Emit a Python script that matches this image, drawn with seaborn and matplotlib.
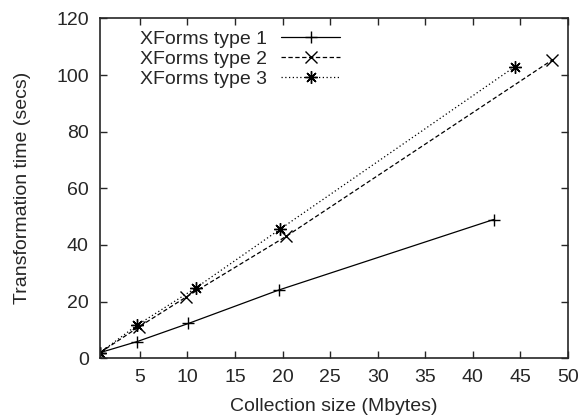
import pandas as pd
import seaborn as sns
import matplotlib.pyplot as plt

# values
size_type1 = [0.8, 4.7, 10.1, 19.6, 42.2]
time_type1 = [2.0, 5.9, 12.3, 24.1, 49.0]
size_type2 = [0.8, 4.9, 9.8, 20.4, 48.3]
time_type2 = [2.0, 11.1, 21.5, 43.1, 105.2]
size_type3 = [0.8, 4.7, 10.9, 19.7, 44.4]
time_type3 = [2.0, 11.7, 24.9, 45.5, 102.9]
series_names = ["XForms type 1", "XForms type 2", "XForms type 3"]

frames = []
for name, xs, ys in zip(series_names,
                        [size_type1, size_type2, size_type3],
                        [time_type1, time_type2, time_type3]):
    frames.append(pd.DataFrame({"size": xs, "time": ys, "type": name}))
df = pd.concat(frames, ignore_index=True)

sns.set_style("ticks")
plt.rcParams["font.family"] = ["Liberation Sans", "DejaVu Sans"]
plt.rcParams["font.size"] = 14

fig = plt.figure(figsize=(5.83, 4.16), dpi=100)
ax = fig.add_axes([0.1715, 0.1387, 0.8025, 0.8171])

sns.lineplot(data=df, x="size", y="time", hue="type", style="type",
             hue_order=series_names, style_order=series_names,
             palette=["black"] * 3,
             markers={series_names[0]: "+", series_names[1]: "x", series_names[2]: (8, 2, 0)},
             dashes={series_names[0]: "", series_names[1]: (3.5, 2), series_names[2]: (1, 2)},
             markersize=9, markeredgewidth=1.0, markeredgecolor="black",
             linewidth=0.9, sort=False, estimator=None, ax=ax)

ax.set_xlim(0.8, 50)
ax.set_ylim(0, 120)
ax.set_xticks(range(5, 51, 5))
ax.set_yticks(range(0, 121, 20))
ax.tick_params(direction="in", top=True, right=True, length=5, width=1,
               labelsize=14, pad=8)
for s in ax.spines.values():
    s.set_linewidth(1.2)
    s.set_visible(True)

ax.set_xlabel("Collection size (Mbytes)", fontsize=14, labelpad=8)
ax.set_ylabel("Transformation time (secs)", fontsize=14, labelpad=18)

ax.legend(loc="upper left", bbox_to_anchor=(0.085, 0.965), frameon=False,
          markerfirst=False, handlelength=3.0, labelspacing=0.12,
          borderaxespad=0, borderpad=0, handletextpad=0.75, fontsize=14)

fig.savefig("out.png", dpi=100)
